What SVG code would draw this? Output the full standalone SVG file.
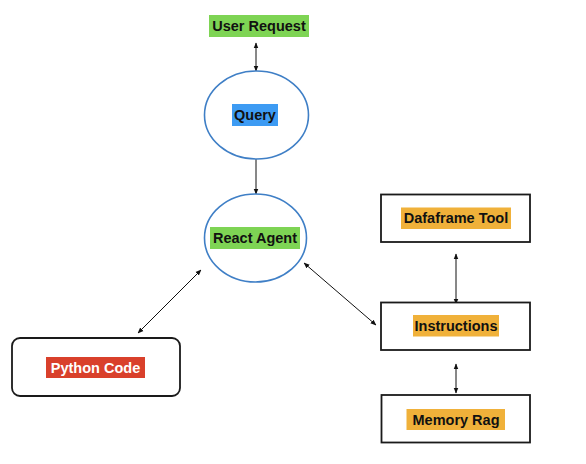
<svg xmlns="http://www.w3.org/2000/svg" width="586" height="464" viewBox="0 0 586 464">
<style>
text{font-family:"Liberation Sans",Arial,sans-serif;font-weight:bold;font-size:14.5px;text-anchor:middle;fill:#111}
.ell{fill:#fff;stroke:#3f7fc6;stroke-width:1.6}
.box{fill:#fff;stroke:#1a1a1a;stroke-width:1.8}
.green{fill:#7ed454}
.blue{fill:#3d9bf3}
.orange{fill:#f0b13a}
.red{fill:#d9402b}
.con{stroke:#111;stroke-width:1;fill:none}
</style>
<defs>
<marker id="ah" viewBox="0 0 10 10" refX="9" refY="5" markerWidth="6" markerHeight="6" orient="auto-start-reverse" markerUnits="userSpaceOnUse">
<path d="M0,1 L10,5 L0,9 z" fill="#111"/>
</marker>
</defs>
<rect width="586" height="464" fill="#fff"/>
<g id="connectors">
<line class="con" x1="256" y1="43" x2="256" y2="71" marker-start="url(#ah)" marker-end="url(#ah)"/>
<line class="con" x1="256" y1="159" x2="256" y2="194" marker-end="url(#ah)"/>
<line class="con" x1="201" y1="270" x2="138" y2="333" marker-start="url(#ah)" marker-end="url(#ah)"/>
<line class="con" x1="304" y1="263" x2="376" y2="325" marker-start="url(#ah)" marker-end="url(#ah)"/>
<line class="con" x1="456" y1="254" x2="456" y2="304" marker-start="url(#ah)" marker-end="url(#ah)"/>
<line class="con" x1="456" y1="364" x2="456" y2="393" marker-start="url(#ah)" marker-end="url(#ah)"/>
</g>
<g id="user-request">
<rect class="green" x="209" y="15" width="100" height="22"/>
<text x="259" y="31">User Request</text>
</g>
<g id="query">
<ellipse class="ell" cx="256.5" cy="115" rx="52" ry="44"/>
<rect class="blue" x="232" y="104" width="46" height="22"/>
<text x="255" y="120">Query</text>
</g>
<g id="react-agent">
<ellipse class="ell" cx="255.5" cy="238" rx="51" ry="44"/>
<rect class="green" x="210" y="227" width="90" height="22"/>
<text x="255" y="243">React Agent</text>
</g>
<g id="python-code">
<rect class="box" x="12" y="338" width="168" height="58" rx="8"/>
<rect class="red" x="46" y="357" width="99" height="21"/>
<text x="95.5" y="372.5" style="fill:#fff">Python Code</text>
</g>
<g id="dataframe-tool">
<rect class="box" x="381" y="194.5" width="149" height="47.5"/>
<rect class="orange" x="401" y="207.5" width="110" height="21.5"/>
<text x="456" y="223">Dafaframe Tool</text>
</g>
<g id="instructions">
<rect class="box" x="381" y="302.5" width="149" height="47.5"/>
<rect class="orange" x="413" y="315" width="86" height="21.5"/>
<text x="456" y="331">Instructions</text>
</g>
<g id="memory-rag">
<rect class="box" x="381.5" y="395" width="148.5" height="47.5"/>
<rect class="orange" x="406.5" y="409" width="98.5" height="21"/>
<text x="456" y="424.5">Memory Rag</text>
</g>
</svg>
